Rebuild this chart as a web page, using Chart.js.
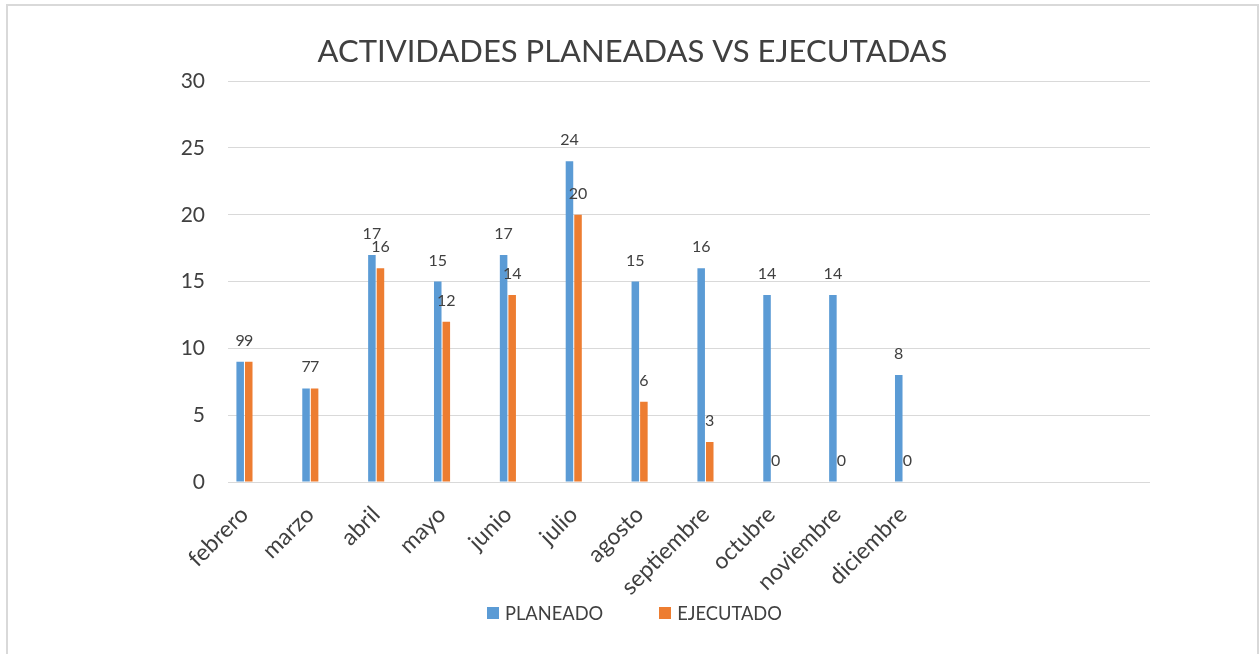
<!DOCTYPE html>
<html>
<head>
<meta charset="utf-8">
<script src="https://cdn.jsdelivr.net/npm/chart.js@4/dist/chart.umd.min.js"></script>
<style>
  body { margin: 0; background: #fff; }
  #frame {
    position: absolute; left: 6px; top: 4px; width: 1249px; height: 700px;
    border: 2px solid #d9d9d9; border-bottom: none;
  }
  #wrap { position: absolute; left: 0; top: 0; width: 1260px; height: 654px; }
  #legend {
    position: absolute; left: 487px; top: 601px; height: 24px;
    display: flex; align-items: center;
    font-family: Lato, "Open Sans", sans-serif; font-size: 18.3px; color: #404040;
  }
  .legend-item { display: flex; align-items: center; margin-right: 56px; }
  .legend-box { width: 12px; height: 12px; margin-right: 6px; }
</style>
</head>
<body>
<div id="frame"></div>
<div id="wrap"><canvas id="actChart" width="1260" height="654"></canvas></div>
<div id="legend"></div>
<script>
// Chart data
const months = ["febrero", "marzo", "abril", "mayo", "junio", "julio",
  "agosto", "septiembre", "octubre", "noviembre", "diciembre"];
const planeado = [9, 7, 17, 15, 17, 24, 15, 16, 14, 14, 8];
const ejecutado = [9, 7, 16, 12, 14, 20, 6, 3, 0, 0, 0];
const yTicks = [0, 5, 10, 15, 20, 25, 30];

// The sheet has a blank row after every month, plus a few empty rows at the end
const emptySlots = 3;
let labels = [];
let planeadoRows = [];
let ejecutadoRows = [];
for (let i = 0; i < months.length + emptySlots; i++) {
  labels.push(i < months.length ? months[i] : "", "");
  planeadoRows.push(i < months.length ? planeado[i] : null, null);
  ejecutadoRows.push(i < months.length ? ejecutado[i] : null, null);
}

const textColor = "#404040";
const fontFamily = "Lato, 'Open Sans', sans-serif";

// Draws the number above each bar
const valueLabels = {
  id: "valueLabels",
  afterDatasetsDraw(chart) {
    const ctx = chart.ctx;
    ctx.save();
    ctx.font = "16px " + fontFamily;
    ctx.fillStyle = textColor;
    ctx.textAlign = "center";
    ctx.textBaseline = "alphabetic";
    chart.data.datasets.forEach((ds, di) => {
      const meta = chart.getDatasetMeta(di);
      meta.data.forEach((bar, i) => {
        const v = ds.data[i];
        if (v === null || v === undefined) return;
        ctx.fillText(String(v), bar.x, bar.y - 16);
      });
    });
    ctx.restore();
  },
};

const actChart = new Chart(document.getElementById("actChart"), {
  type: "bar",
  data: {
    labels: labels,
    datasets: [
      {
        label: "PLANEADO",
        data: planeadoRows,
        backgroundColor: "#5B9BD5",
        borderWidth: 0,
      },
      {
        label: "EJECUTADO",
        data: ejecutadoRows,
        backgroundColor: "#ED7D31",
        borderWidth: 0,
      },
    ],
  },
  options: {
    responsive: false,
    animation: false,
    layout: { padding: { left: 115, right: 110, top: 0, bottom: 0 } },
    datasets: {
      bar: { categoryPercentage: 0.52, barPercentage: 0.88 },
    },
    plugins: {
      title: {
        display: true,
        text: "ACTIVIDADES PLANEADAS VS EJECUTADAS",
        color: textColor,
        font: { family: fontFamily, size: 31, weight: "normal" },
        padding: { top: 33, bottom: 11 },
      },
      legend: { display: false },
      tooltip: { enabled: false },
    },
    scales: {
      x: {
        grid: { display: false },
        border: { display: false },
        ticks: {
          autoSkip: false,
          maxRotation: 45,
          minRotation: 45,
          padding: 11,
          color: textColor,
          font: { family: fontFamily, size: 23 },
        },
        afterFit(scale) {
          scale.height = 172;
        },
      },
      y: {
        min: 0,
        max: 30,
        afterBuildTicks(scale) {
          scale.ticks = yTicks.map((v) => ({ value: v }));
        },
        grid: { color: "#d9d9d9", lineWidth: 1, drawTicks: false },
        border: { display: false },
        ticks: {
          padding: 23,
          color: textColor,
          font: { family: fontFamily, size: 21 },
        },
        afterFit(scale) {
          scale.width = 113;
        },
      },
    },
  },
  plugins: [valueLabels],
});

// Legend below the chart, built from the datasets
const legendEl = document.getElementById("legend");
actChart.data.datasets.forEach((ds) => {
  const item = document.createElement("div");
  item.className = "legend-item";
  const box = document.createElement("span");
  box.className = "legend-box";
  box.style.background = ds.backgroundColor;
  const txt = document.createElement("span");
  txt.textContent = ds.label;
  item.appendChild(box);
  item.appendChild(txt);
  legendEl.appendChild(item);
});
</script>
</body>
</html>
